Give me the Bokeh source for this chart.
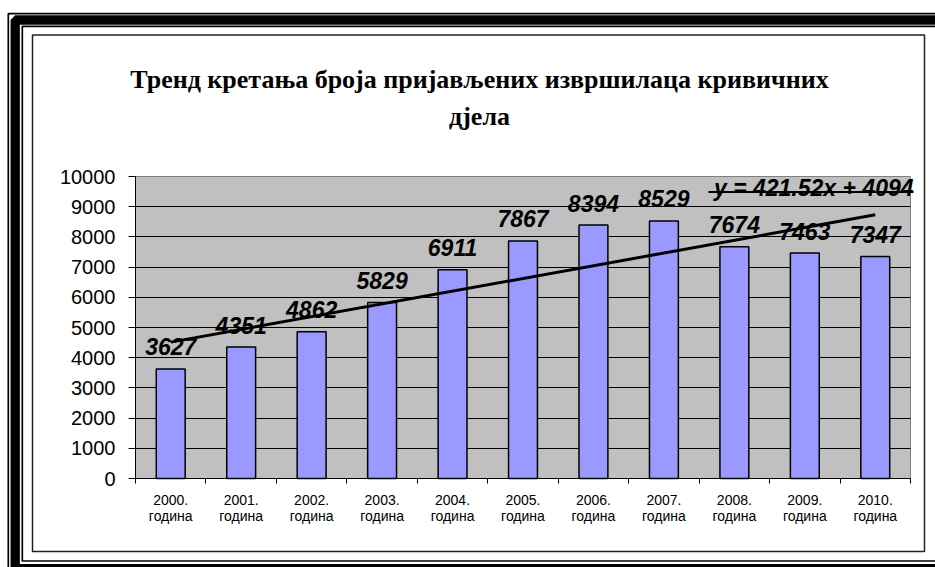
from bokeh.plotting import figure
from bokeh.models import Range1d, FixedTicker, Label, BoxAnnotation
from bokeh.core.properties import value
from bokeh.embed import file_html
from bokeh.resources import INLINE

# ---- data ----
title_line1 = "Тренд кретања броја пријављених извршилаца кривичних"
title_line2 = "дјела"
years = ["2000.", "2001.", "2002.", "2003.", "2004.", "2005.",
         "2006.", "2007.", "2008.", "2009.", "2010."]
year_suffix = "година"
offenders = [3627, 4351, 4862, 5829, 6911, 7867, 8394, 8529, 7674, 7463, 7347]
trend_slope = 421.52
trend_intercept = 4094
trend_label = "y = 421.52x + 4094"
y_ticks = [0, 1000, 2000, 3000, 4000, 5000, 6000, 7000, 8000, 9000, 10000]

n = len(years)
xs = [i + 0.5 for i in range(n)]
y_max = y_ticks[-1]

# ---- layout: the plot frame covers the whole canvas; the chart's
#      plot area sits at pixels x 135..910, y 176..478 ----
W, H = 935, 567
PX_L, PX_R, PY_T, PY_B = 135, 910, 176, 478
ux = (PX_R - PX_L) / n            # px per category
uy = (PY_B - PY_T) / y_max        # px per unit
x_range = Range1d(-PX_L / ux, (W - PX_L) / ux)
y_range = Range1d(-(H - PY_B) / uy, PY_B / uy)

def dx(px):
    return (px - PX_L) / ux

def dy(py):
    return (PY_B - py) / uy

p = figure(width=W, height=H, output_backend="svg", toolbar_location=None,
           x_range=x_range, y_range=y_range,
           min_border_left=0, min_border_right=0,
           min_border_top=0, min_border_bottom=0)
p.background_fill_color = "white"
p.border_fill_color = "white"
p.outline_line_color = None

# plot-area background
p.add_layout(BoxAnnotation(left=0, right=n, bottom=0, top=y_max,
                           fill_color="#C0C0C0", fill_alpha=1,
                           line_color="#808080", line_alpha=1, line_width=1,
                           line_dash="solid", level="image"))

# grid
p.xgrid.visible = False
p.ygrid.ticker = FixedTicker(ticks=y_ticks[1:-1])
p.ygrid.cross_bounds = (0, n)
p.ygrid.grid_line_color = "black"
p.ygrid.grid_line_width = 1

# bars
p.vbar(x=xs, top=offenders, width=0.41, fill_color="#9999FF",
       line_color="black", line_width=1.5)

# trend line (from the equation shown on the chart)
tx = [xs[0], xs[-1]]
ty = [trend_slope * 1 + trend_intercept, trend_slope * n + trend_intercept]
p.line(tx, ty, line_color="black", line_width=3)

# value labels
p.text(x=xs, y=offenders, text=[str(v) for v in offenders],
       text_font=value("Liberation Sans"), text_font_style="bold italic",
       text_font_size="23px", text_color="black",
       text_align="center", text_baseline="alphabetic", y_offset=-22)

# y axis
p.yaxis.fixed_location = 0
p.yaxis.bounds = (0, y_max)
p.yaxis.ticker = FixedTicker(ticks=y_ticks)
p.yaxis.major_label_text_font = "Liberation Sans"
p.yaxis.major_label_text_font_size = "20px"
p.yaxis.major_label_text_color = "black"
p.yaxis.major_tick_in = 0
p.yaxis.major_tick_out = 7
p.yaxis.minor_tick_line_color = None
p.yaxis.axis_line_color = "black"
p.yaxis.major_tick_line_color = "black"
p.yaxis.major_label_standoff = 13

# x axis
p.xaxis.fixed_location = 0
p.xaxis.bounds = (0, n)
p.xaxis.ticker = FixedTicker(ticks=xs, minor_ticks=list(range(n + 1)))
p.xaxis.major_label_overrides = {x: f"{y}\n{year_suffix}" for x, y in zip(xs, years)}
p.xaxis.major_label_text_font = "Liberation Sans"
p.xaxis.major_label_text_font_size = "14px"
p.xaxis.major_label_text_color = "black"
p.xaxis.major_label_text_line_height = 1.0
p.xaxis.major_tick_in = 0
p.xaxis.major_tick_out = 0
p.xaxis.minor_tick_in = 0
p.xaxis.minor_tick_out = 5
p.xaxis.minor_tick_line_color = "black"
p.xaxis.axis_line_color = "black"
p.xaxis.major_label_standoff = 8

# title (two lines, centred on the chart area)
for txt, py in [(title_line1, 79), (title_line2, 116)]:
    p.add_layout(Label(x=dx(479), y=dy(py), text=txt, text_align="center",
                       text_baseline="alphabetic",
                       text_font="Liberation Serif", text_font_style="bold",
                       text_font_size="26px", text_color="black"))

# trend equation, underlined
p.add_layout(Label(x=dx(913), y=dy(187), text=trend_label, text_align="right",
                   text_baseline="alphabetic", text_font="Liberation Sans",
                   text_font_style="bold italic", text_font_size="23px",
                   text_color="black"))

def canvas_box(l, t, r, b, **kw):
    p.add_layout(BoxAnnotation(left=l, right=r, top=t, bottom=b,
                               left_units="canvas", right_units="canvas",
                               top_units="canvas", bottom_units="canvas", **kw))

canvas_box(708, 190.5, 913, 192.5, fill_color="black", fill_alpha=1,
           line_color=None)

# decorative frame
def frame(l, t, r, b, w, color="black"):
    canvas_box(l, t, r, b, fill_color=None, fill_alpha=0,
               line_color=color, line_alpha=1, line_dash="solid", line_width=w)

frame(7.8, 13.2, 990, 620, 1.7)
frame(14.7, 19.5, 980, 568.2, 9.3)
frame(21.8, 25.8, 970, 560.5, 1.7)
frame(32, 34.5, 924, 551, 1.5, "#202020")

open("out.html", "w").write(file_html(p, INLINE))
